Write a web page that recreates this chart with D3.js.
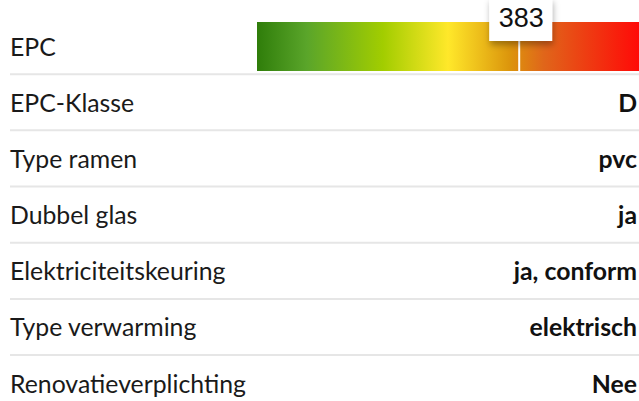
<!DOCTYPE html>
<html>
<head>
	<title>EPC</title>
	<style type="text/css">
		body{ margin:0; background:#fff; }
		.specs text{ font-family: Lato, sans-serif; }
	</style>
</head>
<body>
	<svg width=639 height=401 class="specs"></svg>
	<script type="text/javascript" src="https://cdn.jsdelivr.net/npm/d3@7"></script>
	<script type="text/javascript">

		labels = ['EPC', 'EPC-Klasse', 'Type ramen', 'Dubbel glas', 'Elektriciteitskeuring', 'Type verwarming', 'Renovatieverplichting']
		values = [null, 'D', 'pvc', 'ja', 'ja, conform', 'elektrisch', 'Nee']
		epc_value = 383
		epc_domain = [0, 558]
		grad_stops = [0, 0.13, 0.33, 0.5, 0.66, 0.75, 1]
		grad_colors = ['#2f7d0a', '#5aa52a', '#a2cd00', '#ffe82a', '#dc960c', '#e0661a', '#ff0a08']

		svg = d3.select('.specs')

		// rows
		y = d3.scaleBand()
			.domain(labels)
			.range([18, 355 + 56.3])

		x = d3.scaleLinear()
			.domain(epc_domain)
			.range([257, 639])

		defs = svg.append('defs')
		grad = defs.append('linearGradient').attr('id', 'epc-grad')
		grad.selectAll('stop')
			.data(grad_stops)
			.enter()
			.append('stop')
			.attr('offset', function(d){ return d })
			.attr('stop-color', function(d, i){ return grad_colors[i] })

		filt = defs.append('filter').attr('id', 'shadow')
			.attr('x', '-30%').attr('y', '-30%').attr('width', '160%').attr('height', '180%')
		filt.append('feDropShadow')
			.attr('dx', 1).attr('dy', 4).attr('stdDeviation', 3)
			.attr('flood-color', '#000').attr('flood-opacity', 0.3)

		// separators
		svg.append('g')
			.selectAll('line')
			.data(labels.slice(0, -1))
			.enter()
			.append('line')
			.attr('x1', 10)
			.attr('x2', 639)
			.attr('y1', function(d){ return y(d) + y.bandwidth() })
			.attr('y2', function(d){ return y(d) + y.bandwidth() })
			.attr('stroke', '#e6e6e6')
			.attr('stroke-width', 2)

		svg.append('g')
			.selectAll('text')
			.data(labels)
			.enter()
			.append('text')
			.attr('x', 10)
			.attr('y', function(d){ return y(d) + 37.5 })
			.attr('font-size', 24.8)
			.attr('fill', '#1a1a1a')
			.text(function(d){ return d })

		svg.append('g')
			.selectAll('text')
			.data(values)
			.enter()
			.append('text')
			.attr('x', 637)
			.attr('y', function(d, i){ return y(labels[i]) + 37.5 })
			.attr('text-anchor', 'end')
			.attr('font-size', 24.8)
			.attr('font-weight', 'bold')
			.attr('fill', '#111')
			.text(function(d){ return d })

		// EPC bar
		bar = svg.append('g')
		bar.append('rect')
			.attr('x', x(epc_domain[0]))
			.attr('y', 22)
			.attr('width', x(epc_domain[1]) - x(epc_domain[0]))
			.attr('height', 49)
			.attr('fill', 'url(#epc-grad)')

		bar.append('line')
			.attr('x1', x(epc_value))
			.attr('x2', x(epc_value))
			.attr('y1', 22)
			.attr('y2', 71)
			.attr('stroke', '#fff')
			.attr('stroke-width', 2)

		bar.append('rect')
			.attr('x', x(epc_value) - 30)
			.attr('y', -2)
			.attr('width', 63)
			.attr('height', 43)
			.attr('fill', '#fff')
			.attr('filter', 'url(#shadow)')

		bar.append('text')
			.attr('x', x(epc_value) + 2)
			.attr('y', 27)
			.attr('text-anchor', 'middle')
			.attr('font-size', 27)
			.style('font-family', '"Liberation Sans", Arial, sans-serif')
			.attr('fill', '#111')
			.text(epc_value)

	</script>
</body>
</html>
